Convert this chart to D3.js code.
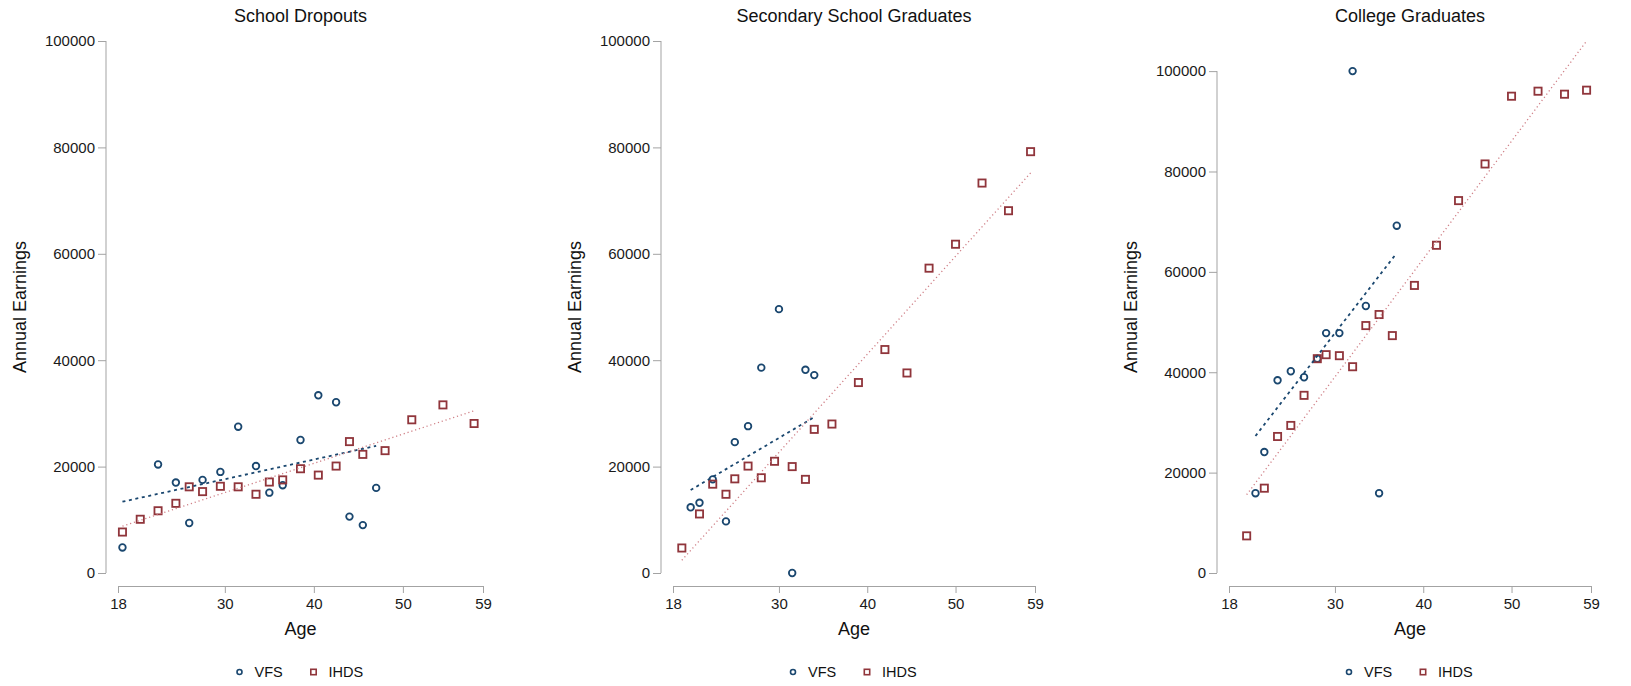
<!DOCTYPE html>
<html>
<head>
<meta charset="utf-8">
<script src="https://cdn.jsdelivr.net/npm/d3@7"></script>
<style>
  body { margin: 0; background: #fff; }
  svg { display: block; font-family: "Liberation Sans", Arial, Helvetica, sans-serif; }
</style>
</head>
<body>
<svg id="chart" width="1631" height="686"></svg>
<script>
// tick values shared by the three panels
const ageTicks = [18, 30, 40, 50, 59]
const earnTicks = [0, 20000, 40000, 60000, 80000, 100000]
const panelTitles = ["School Dropouts", "Secondary School Graduates", "College Graduates"]

// [age, annual earnings]
const dropoutsVFS = [[18.5, 4800], [22.5, 20400], [24.5, 17000], [26, 9400], [27.5, 17500], [29.5, 19000],
    [31.5, 27500], [33.5, 20100], [35, 15100], [36.5, 16500], [38.5, 25000], [40.5, 33400], [42.5, 32100],
    [44, 10600], [45.5, 9000], [47, 16000]]
const dropoutsIHDS = [[18.5, 7700], [20.5, 10100], [22.5, 11700], [24.5, 13100], [26, 16200], [27.5, 15300],
    [29.5, 16300], [31.5, 16200], [33.5, 14800], [35, 17100], [36.5, 17500], [38.5, 19600], [40.5, 18400],
    [42.5, 20100], [44, 24700], [45.5, 22300], [48, 23000], [51, 28800], [54.5, 31600], [58, 28100]]
const dropoutsFitVFS = [[18.5, 13400], [47, 23900]]
const dropoutsFitIHDS = [[18.5, 8800], [58, 30500]]

const secondaryVFS = [[20, 12350], [21, 13200], [22.5, 17600], [24, 9700], [25, 24600], [26.5, 27600],
    [28, 38600], [30, 49600], [31.5, 0], [33, 38200], [34, 37200]]
const secondaryIHDS = [[19, 4700], [21, 11100], [22.5, 16700], [24, 14800], [25, 17700], [26.5, 20100],
    [28, 17900], [29.5, 21000], [31.5, 20000], [33, 17600], [34, 27000], [36, 28000], [39, 35800],
    [42, 42000], [44.5, 37600], [47, 57300], [50, 61800], [53, 73300], [56, 68100], [58.5, 79200]]
const secondaryFitVFS = [[20, 15600], [34, 29300]]
const secondaryFitIHDS = [[19, 2400], [58.5, 75200]]

const collegeVFS = [[21, 15900], [22, 24100], [23.5, 38400], [25, 40200], [26.5, 39000], [28, 42700],
    [29, 47800], [30.5, 47800], [32, 100000], [33.5, 53200], [35, 15900], [37, 69200]]
const collegeIHDS = [[20, 7400], [22, 16900], [23.5, 27200], [25, 29400], [26.5, 35400], [28, 42700],
    [29, 43500], [30.5, 43300], [32, 41100], [33.5, 49300], [35, 51500], [36.5, 47300], [39, 57300],
    [41.5, 65300], [44, 74200], [47, 81500], [50, 95000], [53, 96000], [56, 95400], [58.5, 96200]]
const collegeFitVFS = [[21, 27300], [36.8, 63300]]
const collegeFitIHDS = [[20, 15600], [58.5, 106000]]

// upper end of each panel's earnings scale
const earnMax = [100000, 100000, 106000]

const panels = [
    { vfs: dropoutsVFS, ihds: dropoutsIHDS, fitVfs: dropoutsFitVFS, fitIhds: dropoutsFitIHDS },
    { vfs: secondaryVFS, ihds: secondaryIHDS, fitVfs: secondaryFitVFS, fitIhds: secondaryFitIHDS },
    { vfs: collegeVFS, ihds: collegeIHDS, fitVfs: collegeFitVFS, fitIhds: collegeFitIHDS }
]

// layout
const xRanges = [[118, 483], [673, 1035], [1229, 1591]]
const yTop = 41, yBottom = 573, xAxisY = 586
const blue = "#1a476f", red = "#90353b", pink = "#cf7f86", axisGrey = "#a3a3a3"

const svg = d3.select("#chart")

panels.forEach((p, i) => {
    const xScale = d3.scaleLinear().domain([18, 59]).range(xRanges[i])
    const yScale = d3.scaleLinear().domain([0, earnMax[i]]).range([yBottom, yTop])
    const yAxisX = xRanges[i][0] - 12
    const cx = (xRanges[i][0] + xRanges[i][1]) / 2

    const g = svg.append("g")

    // title
    g.append("text")
        .attr("x", cx).attr("y", 21.5)
        .attr("text-anchor", "middle")
        .attr("font-size", "18px")
        .attr("fill", "#111")
        .text(panelTitles[i])

    // y axis
    const yAxis = g.append("g")
        .attr("transform", `translate(${yAxisX},0)`)
        .call(d3.axisLeft(yScale).tickValues(earnTicks).tickFormat(d3.format("d"))
            .tickSize(8).tickSizeOuter(0).tickPadding(3))
    yAxis.select(".domain").remove()
    yAxis.append("line")
        .attr("y1", yScale(0)).attr("y2", yScale(100000))
        .attr("stroke", axisGrey)
    yAxis.selectAll(".tick line").attr("stroke", axisGrey)
    yAxis.selectAll(".tick text").attr("font-size", "15px").attr("fill", "#1a1a1a")
        .attr("font-family", "Liberation Sans, Arial, sans-serif")

    // x axis
    const xAxis = g.append("g")
        .attr("transform", `translate(0,${xAxisY})`)
        .call(d3.axisBottom(xScale).tickValues(ageTicks).tickSize(7).tickSizeOuter(0).tickPadding(5))
    xAxis.select(".domain").attr("stroke", axisGrey)
    xAxis.selectAll(".tick line").attr("stroke", axisGrey)
    xAxis.selectAll(".tick text").attr("font-size", "15px").attr("fill", "#1a1a1a")
        .attr("font-family", "Liberation Sans, Arial, sans-serif")

    // axis titles
    g.append("text")
        .attr("x", cx).attr("y", 635)
        .attr("text-anchor", "middle")
        .attr("font-size", "18px")
        .attr("fill", "#111")
        .text("Age")

    g.append("text")
        .attr("transform", `translate(${yAxisX - 80},${(yTop + yBottom) / 2}) rotate(-90)`)
        .attr("text-anchor", "middle")
        .attr("font-size", "18px")
        .attr("fill", "#111")
        .text("Annual Earnings")

    // markers
    g.append("g").selectAll("circle")
        .data(p.vfs)
        .enter()
        .append("circle")
            .attr("cx", d => xScale(d[0]))
            .attr("cy", d => yScale(d[1]))
            .attr("r", 3.3)
            .attr("fill", "none")
            .attr("stroke", blue)
            .attr("stroke-width", 1.8)

    const side = 7.2
    g.append("g").selectAll("rect")
        .data(p.ihds)
        .enter()
        .append("rect")
            .attr("x", d => xScale(d[0]) - side / 2)
            .attr("y", d => yScale(d[1]) - side / 2)
            .attr("width", side)
            .attr("height", side)
            .attr("fill", "none")
            .attr("stroke", red)
            .attr("stroke-width", 1.8)

    // fitted lines
    const line = d3.line().x(d => xScale(d[0])).y(d => yScale(d[1]))
    g.append("path")
        .attr("d", line(p.fitVfs))
        .attr("fill", "none")
        .attr("stroke", blue)
        .attr("stroke-width", 1.8)
        .attr("stroke-dasharray", "3,3.6")
    g.append("path")
        .attr("d", line(p.fitIhds))
        .attr("fill", "none")
        .attr("stroke", pink)
        .attr("stroke-width", 1.3)
        .attr("stroke-dasharray", "1.2,2.8")

    // legend
    const legY = 672
    g.append("circle")
        .attr("cx", cx - 61).attr("cy", legY).attr("r", 2.5)
        .attr("fill", "none").attr("stroke", blue).attr("stroke-width", 1.6)
    g.append("text")
        .attr("x", cx - 46).attr("y", legY + 5.2)
        .attr("font-size", "14.5px").attr("fill", "#111")
        .text("VFS")
    g.append("rect")
        .attr("x", cx + 13 - 2.7).attr("y", legY - 2.7).attr("width", 5.4).attr("height", 5.4)
        .attr("fill", "none").attr("stroke", red).attr("stroke-width", 1.6)
    g.append("text")
        .attr("x", cx + 28).attr("y", legY + 5.2)
        .attr("font-size", "14.5px").attr("fill", "#111")
        .text("IHDS")
})
</script>
</body>
</html>
